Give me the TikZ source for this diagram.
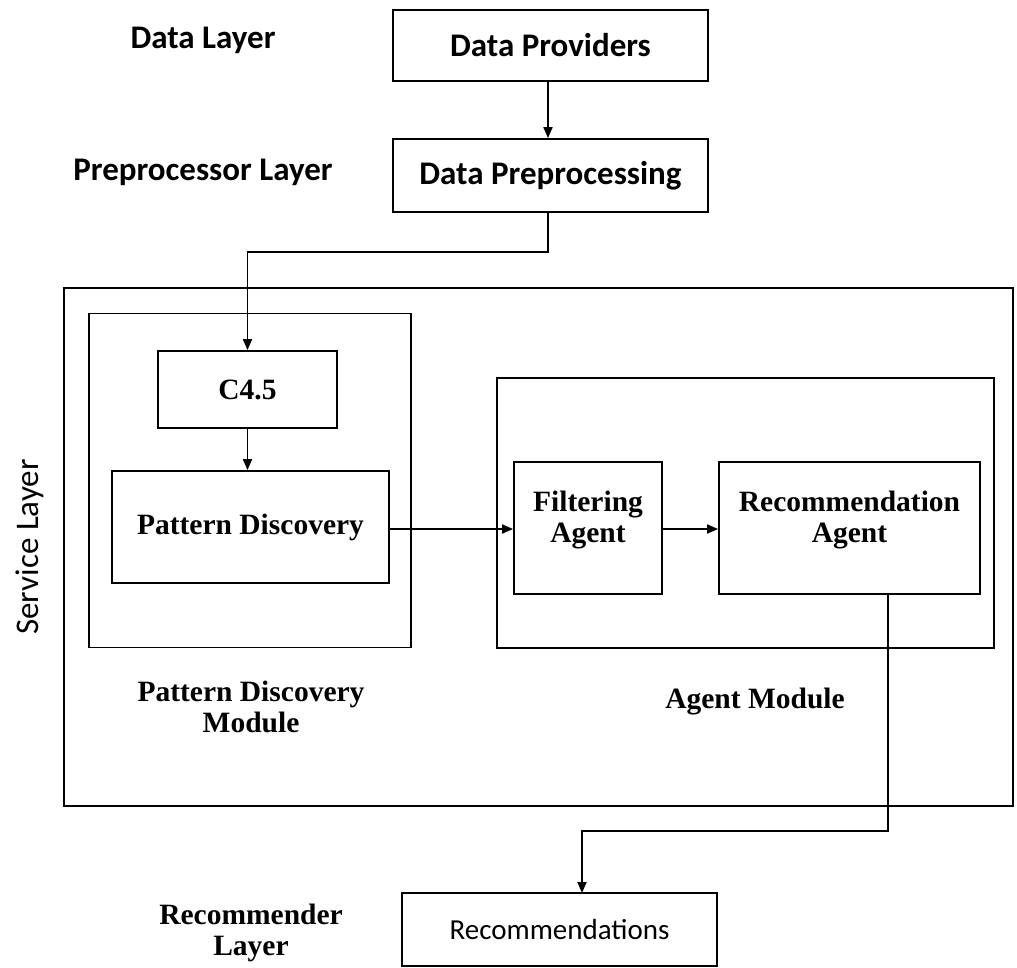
\documentclass[tikz,border=0pt]{standalone}
\usepackage{fontspec}
\setmainfont{Liberation Serif}
\newfontfamily\calib{Carlito}
\usetikzlibrary{arrows.meta,calc}
\begin{document}
\begin{tikzpicture}[x=1pt,y=-1pt,
  every path/.style={line width=1.8pt},
  box/.style={draw, line width=1.8pt, inner sep=0pt, align=center},
  sansbold/.style={font=\calib\bfseries\fontsize{33}{38}\selectfont},
  sansreg/.style={font=\calib\fontsize{33}{38}\selectfont},
  serifbold/.style={font=\bfseries\fontsize{29.5}{31}\selectfont, align=center},
  arr/.style={-{Triangle[length=11pt,width=9pt]}, line width=1.8pt}]
\useasboundingbox (0,0) rectangle (1017,967);

% top layers
\node[box, sansbold, minimum width=315, minimum height=71] (dp) at (550.5,45.5) {Data Providers};
\node[box, sansbold, minimum width=315, minimum height=73] (dpp) at (550.5,175.5) {Data Preprocessing};
\node[sansbold] (ldl) at (203,40) {Data Layer};
\node[sansbold] (lpl) at (203,172) {Preprocessor Layer};

% service layer
\node[box, minimum width=949, minimum height=518] (svc) at (538.5,547) {};
\node[box, minimum width=322, minimum height=334] (pdm) at (250,480.5) {};
\node[box, serifbold, minimum width=179, minimum height=77] (c45) at (247.5,389.5) {C4.5};
\node[box, serifbold, minimum width=277, minimum height=112] (pd) at (250.5,527) {Pattern Discovery};
\node[box, minimum width=497, minimum height=270] (am) at (745.5,513) {};
\node[box, serifbold, minimum width=148, minimum height=132] (fa) at (588,528) {Filtering\\Agent\\[-18pt]\strut};
\node[box, serifbold, minimum width=261, minimum height=132] (ra) at (849.5,528) {Recommendation\\Agent\\[-18pt]\strut};
\node[serifbold] (lpdm) at (251,707) {Pattern Discovery\\Module};
\node[serifbold] (lam) at (755,702) {Agent Module};
\node[sansreg, rotate=90] (lsl) at (30,547) {Service Layer};

% recommender layer
\node[box, font=\calib\fontsize{29}{34}\selectfont, minimum width=315, minimum height=73] (rec) at (559.5,929.5) {Recommendations};
\node[serifbold] (lrl) at (251,933) {Recommender\\Layer};

% connectors
\draw[arr] (dp.south -| 548,0) -- (dpp.north -| 548,0);
\coordinate (j1) at (548,252);
\draw[arr] (dpp.south -| j1) -- (j1) -| (c45.north);
\draw[arr] (c45.south) -- (pd.north -| c45.south);
\draw[arr] (pd.east |- 0,529) -- (fa.west |- 0,529);
\draw[arr] (fa.east |- 0,529) -- (ra.west |- 0,529);
\coordinate (ra1) at (888,594);
\coordinate (j2) at (888,831);
\coordinate (rectop) at (582,893);
\draw[arr] (ra1) -- (j2) -| (rectop);
\end{tikzpicture}
\end{document}
